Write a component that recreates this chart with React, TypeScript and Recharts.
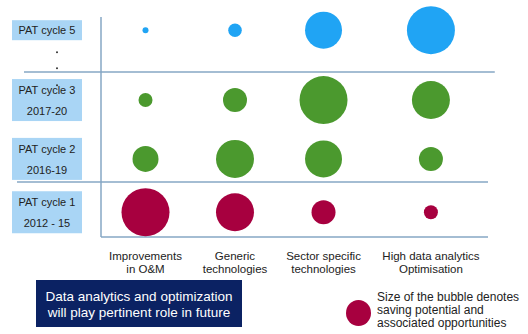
import React from "react";
import {
  ScatterChart,
  Scatter,
  XAxis,
  YAxis,
  ZAxis,
  ReferenceLine,
} from "recharts";

// Columns (technology areas) and their positions on the x scale
const columns = [
  ["Improvements", "in O&M"],
  ["Generic", "technologies"],
  ["Sector specific", "technologies"],
  ["High data analytics", "Optimisation"],
];
const colPos = [0.46, 1.385, 2.3, 3.41];

// Rows (PAT cycles) and their positions on the y scale
const rowLabels = [
  ["PAT cycle 1", "2012 - 15"],
  ["PAT cycle 2", "2016-19"],
  ["PAT cycle 3", "2017-20"],
  ["PAT cycle 5"],
];
const rowPos = [0.45, 1.42, 2.49, 3.76];

// Group labels on the right
const groupLabels = ["Completed", "Active", "Future"];
const groupPos = [0.44, 2.04, 3.74];

// Bubble size values (saving potential), per column
const cycle5 = [9, 46, 342, 576];
const cycle3 = [49, 144, 576, 361];
const cycle2 = [169, 361, 342, 144];
const cycle1 = [576, 361, 144, 49];

const build = (vals: number[], row: number) =>
  vals.map((v, i) => ({ x: colPos[i], y: rowPos[row], z: v }));

const futureData = build(cycle5, 3);
const activeData = [...build(cycle3, 2), ...build(cycle2, 1)];
const completedData = build(cycle1, 0);

const FONT = "'Liberation Sans', Arial, sans-serif";
const LINE = "#86a7c4";

const RowTick = (props: any) => {
  const { x, y, payload } = props;
  const i = rowPos.indexOf(payload.value);
  if (i < 0) return null;
  const lines = rowLabels[i];
  const h = lines.length === 1 ? 20 : 42;
  const top = y - h / 2;
  return (
    <g>
      <rect x={x - 89} y={top} width={70} height={h} fill="#a9d5f5" />
      {lines.map((t, k) => (
        <text
          key={k}
          x={x - 54}
          y={top + (h === 20 ? 14 : 15) + k * 21}
          textAnchor="middle"
          fontSize={11}
          fontFamily={FONT}
          fill="#222"
        >
          {t}
        </text>
      ))}
      {lines.length === 1 &&
        [22, 38, 55].map((d) => (
          <circle key={d} cx={x - 44} cy={y + d} r={1} fill="#333" />
        ))}
    </g>
  );
};

const ColTick = (props: any) => {
  const { x, y, payload } = props;
  const i = colPos.indexOf(payload.value);
  if (i < 0) return null;
  return (
    <g>
      {columns[i].map((t, k) => (
        <text
          key={k}
          x={x}
          y={y + 23 + k * 13}
          textAnchor="middle"
          fontSize={11.5}
          fontFamily={FONT}
          fill="#222"
        >
          {t}
        </text>
      ))}
    </g>
  );
};

const GroupTick = (props: any) => {
  const { x, y, payload } = props;
  const i = groupPos.indexOf(payload.value);
  if (i < 0) return null;
  return (
    <text
      x={x - 6}
      y={y + 4}
      textAnchor="middle"
      fontSize={11}
      fontFamily={FONT}
      fill="#222"
    >
      {groupLabels[i]}
    </text>
  );
};

export default function App() {
  return (
    <div
      style={{
        position: "absolute",
        left: 0,
        top: 0,
        width: 528,
        height: 334,
        overflow: "hidden",
        background: "#fff",
        fontFamily: FONT,
      }}
    >
      <ScatterChart
        width={528}
        height={334}
        margin={{ top: 17, right: 0, left: 0, bottom: 57 }}
      >
        <XAxis
          type="number"
          dataKey="x"
          domain={[0, 4]}
          ticks={colPos}
          tick={<ColTick />}
          tickSize={0}
          tickMargin={0}
          tickLine={false}
          axisLine={{ stroke: LINE, strokeWidth: 1.5 }}
          height={40}
        />
        <YAxis
          yAxisId="left"
          type="number"
          dataKey="y"
          domain={[0, 4]}
          ticks={rowPos}
          tick={<RowTick />}
          tickSize={0}
          tickMargin={0}
          tickLine={false}
          axisLine={{ stroke: LINE, strokeWidth: 1.5 }}
          width={101}
        />
        <YAxis
          yAxisId="right"
          orientation="right"
          type="number"
          domain={[0, 4]}
          ticks={groupPos}
          tick={<GroupTick />}
          tickSize={0}
          tickMargin={0}
          tickLine={false}
          axisLine={false}
          width={40}
        />
        <ZAxis type="number" dataKey="z" domain={[0, 625]} range={[0, 625 * Math.PI]} />
        <ReferenceLine
          yAxisId="left"
          segment={[
            { x: -0.796, y: 3 },
            { x: 4.07, y: 3 },
          ]}
          stroke={LINE}
          strokeWidth={1.5}
          ifOverflow="visible"
        />
        <ReferenceLine
          yAxisId="left"
          segment={[
            { x: -0.868, y: 1 },
            { x: 4, y: 1 },
          ]}
          stroke={LINE}
          strokeWidth={1.5}
          ifOverflow="visible"
        />
        <Scatter yAxisId="left" data={futureData} fill="#20a4f4" isAnimationActive={false} />
        <Scatter yAxisId="left" data={activeData} fill="#4b992e" isAnimationActive={false} />
        <Scatter yAxisId="left" data={completedData} fill="#a7003f" isAnimationActive={false} />
      </ScatterChart>

      <div
        style={{
          position: "absolute",
          left: 36,
          top: 280,
          width: 206,
          height: 47,
          background: "#0b2263",
          color: "#fff",
          fontSize: 13.5,
          lineHeight: "16px",
          textAlign: "center",
          display: "flex",
          flexDirection: "column",
          justifyContent: "center",
          paddingTop: 3,
          boxSizing: "border-box",
          whiteSpace: "nowrap",
        }}
      >
        <div>Data analytics and optimization</div>
        <div>will play pertinent role in future</div>
      </div>

      <div
        style={{
          position: "absolute",
          left: 346,
          top: 300,
          width: 25,
          height: 26,
          borderRadius: "50%",
          background: "#a7003f",
        }}
      />
      <div
        style={{
          position: "absolute",
          left: 377,
          top: 291,
          fontSize: 12,
          lineHeight: "13px",
          color: "#222",
          whiteSpace: "nowrap",
        }}
      >
        <div>Size of the bubble denotes</div>
        <div>saving potential and</div>
        <div>associated opportunities</div>
      </div>
    </div>
  );
}
